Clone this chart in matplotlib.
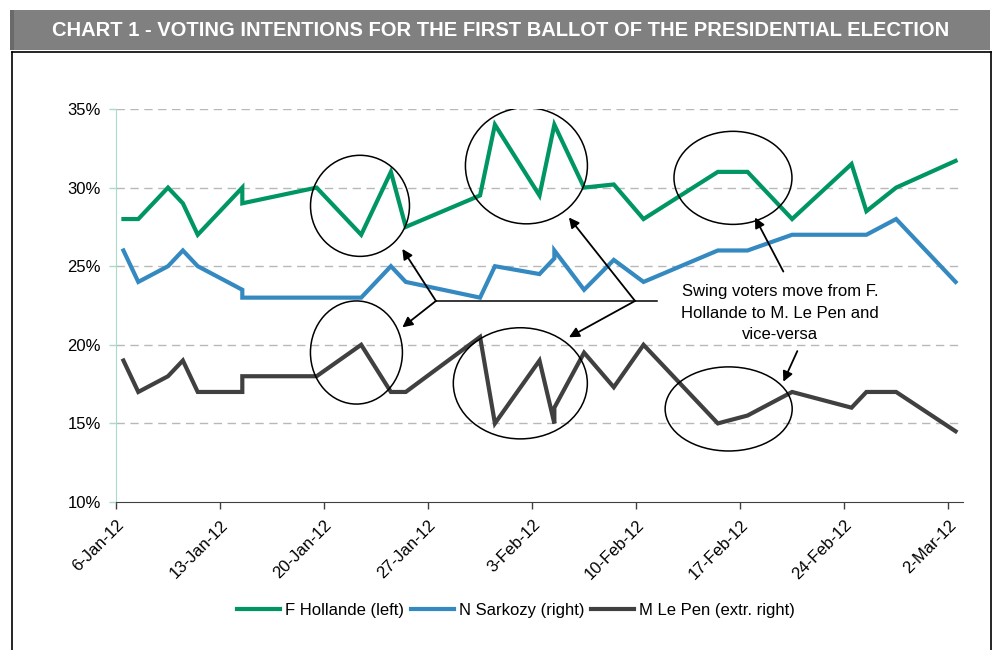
import numpy as np
import pandas as pd
import matplotlib
matplotlib.use('Agg')
import matplotlib.pyplot as plt
import matplotlib.dates as mdates
from matplotlib.patches import Ellipse, Rectangle
from matplotlib.lines import Line2D

plt.rcParams['font.family'] = ['Liberation Sans', 'DejaVu Sans']

##########################################################################
# Data (poll dates, some dates carry two polls)
poll_dates = ['2012-01-06', '2012-01-07', '2012-01-09', '2012-01-10', '2012-01-11',
              '2012-01-14', '2012-01-14', '2012-01-19', '2012-01-22', '2012-01-24',
              '2012-01-25', '2012-01-30', '2012-01-31', '2012-02-03', '2012-02-04',
              '2012-02-04', '2012-02-06', '2012-02-08', '2012-02-10', '2012-02-15',
              '2012-02-17', '2012-02-20', '2012-02-24', '2012-02-25', '2012-02-27',
              '2012-03-02']
hollande = [28, 28, 30, 29, 27, 30, 29, 30, 27, 31, 27.5, 29.5, 34, 29.5, 34, 34,
            30, 30.2, 28, 31, 31, 28, 31.5, 28.5, 30, 31.7]
sarkozy = [26, 24, 25, 26, 25, 23.5, 23, 23, 23, 25, 24, 23, 25, 24.5, 25.5, 26,
           23.5, 25.4, 24, 26, 26, 27, 27, 27, 28, 24]
lepen = [19, 17, 18, 19, 17, 17, 18, 18, 20, 17, 17, 20.5, 15, 19, 15, 16,
         19.5, 17.3, 20, 15, 15.5, 17, 16, 17, 17, 14.5]

series_names = ['F Hollande (left)', 'N Sarkozy (right)', 'M Le Pen (extr. right)']
series_colors = ['#009664', '#3489c0', '#404040']

tick_dates = ['2012-01-06', '2012-01-13', '2012-01-20', '2012-01-27', '2012-02-03',
              '2012-02-10', '2012-02-17', '2012-02-24', '2012-03-02']
tick_labels = ['6-Jan-12', '13-Jan-12', '20-Jan-12', '27-Jan-12', '3-Feb-12',
               '10-Feb-12', '17-Feb-12', '24-Feb-12', '2-Mar-12']
y_ticks = [10, 15, 20, 25, 30, 35]

##########################################################################
fig = plt.figure(figsize=(9.93, 6.5), dpi=100)
W, H = 993., 650.

# title band and frame
fig.patches.append(Rectangle((10/W, 1-50/H), 980/W, 40/H, transform=fig.transFigure,
                             facecolor='#808080', edgecolor='none', zorder=0))
fig.patches.append(Rectangle((10/W, 1-50/H), 4/W, 40/H, transform=fig.transFigure,
                             facecolor='#6a6a6a', edgecolor='none', zorder=0))
fig.text(501/W, 1-31/H, 'CHART 1 - VOTING INTENTIONS FOR THE FIRST BALLOT OF THE PRESIDENTIAL ELECTION',
         color='white', fontsize=14.5, fontweight='bold', ha='center', va='center',
         family=['Liberation Sans Narrow', 'Liberation Sans'])
for xs, ys in [([12, 12], [52, 660]), ([12, 991], [52, 52]), ([991, 991], [52, 660])]:
    fig.lines.append(Line2D([x/W for x in xs], [1-y/H for y in ys], transform=fig.transFigure,
                            color='black', lw=1.2))

ax = fig.add_axes([116/W, 1-502/H, 847/W, 393/H])

x = pd.to_datetime(poll_dates) + pd.Timedelta(hours=12)
for vals, name, col in zip([hollande, sarkozy, lepen], series_names, series_colors):
    ax.plot(x, vals, color=col, lw=3, label=name, solid_joinstyle='miter', zorder=3)

start = mdates.date2num(pd.Timestamp('2012-01-06'))
ax.set_xlim(start, start + 57)
ax.set_ylim(10, 35)
ax.set_xticks(mdates.date2num(pd.to_datetime(tick_dates)))
ax.set_xticklabels(tick_labels, rotation=45, ha='right', va='top', rotation_mode='anchor')
ax.set_yticks(y_ticks)
ax.set_yticklabels(['%d%%' % v for v in y_ticks])
ax.tick_params(axis='both', labelsize=12, colors='black')
ax.tick_params(axis='x', length=5, width=1, color='#404040', pad=6)
ax.tick_params(axis='y', length=5, width=1, color='#a8dcc8', pad=6)
for v in y_ticks[1:]:
    ax.axhline(v, color='#b8b8b8', lw=1, dashes=(6, 4), zorder=1)
for s in ['top', 'right']:
    ax.spines[s].set_visible(False)
ax.spines['left'].set_color('#a8dcc8')
ax.spines['bottom'].set_color('#404040')
ax.spines['bottom'].set_zorder(4)

# annotations (day offset from 6-Jan, percent)
ellipses = [(16.42, 28.84, 6.66, 6.43), (16.18, 19.51, 6.19, 6.56),
            (27.62, 31.39, 8.21, 7.39), (27.21, 17.55, 9.02, 7.07),
            (41.52, 30.62, 7.94, 5.92), (41.23, 15.92, 8.55, 5.35)]
for cx, cy, w, h in ellipses:
    ax.add_patch(Ellipse((start + cx, cy), w, h, fill=False, ec='black', lw=1.1, zorder=5))

ax.plot([start + 21.53, start + 36.41], [22.79, 22.79], color='black', lw=1.1, zorder=5)
arrows = [((21.53, 22.79), (19.27, 26.1)), ((21.53, 22.79), (19.27, 21.11)),
          ((34.93, 22.79), (30.48, 28.1)), ((34.93, 22.79), (30.48, 20.48)),
          ((44.91, 24.66), (43.0, 28.1)), ((45.85, 19.6), (44.91, 17.65))]
for (x0, y0), (x1, y1) in arrows:
    ax.annotate('', xy=(start + x1, y1), xytext=(start + x0, y0),
                arrowprops=dict(arrowstyle='-|>,head_length=0.5,head_width=0.25', color='black',
                                lw=1.3, mutation_scale=12, shrinkA=0, shrinkB=0), zorder=6)
ax.text(start + 44.68, 22.0, 'Swing voters move from F.\nHollande to M. Le Pen and\nvice-versa',
        ha='center', va='center', fontsize=12, linespacing=1.55, zorder=6)

fig.legend(loc='center', bbox_to_anchor=(516/W, 1-610/H), ncol=3, frameon=False,
           fontsize=12, handlelength=2.6, handletextpad=0.3, columnspacing=0.4)

fig.savefig('out.png', dpi=100)
